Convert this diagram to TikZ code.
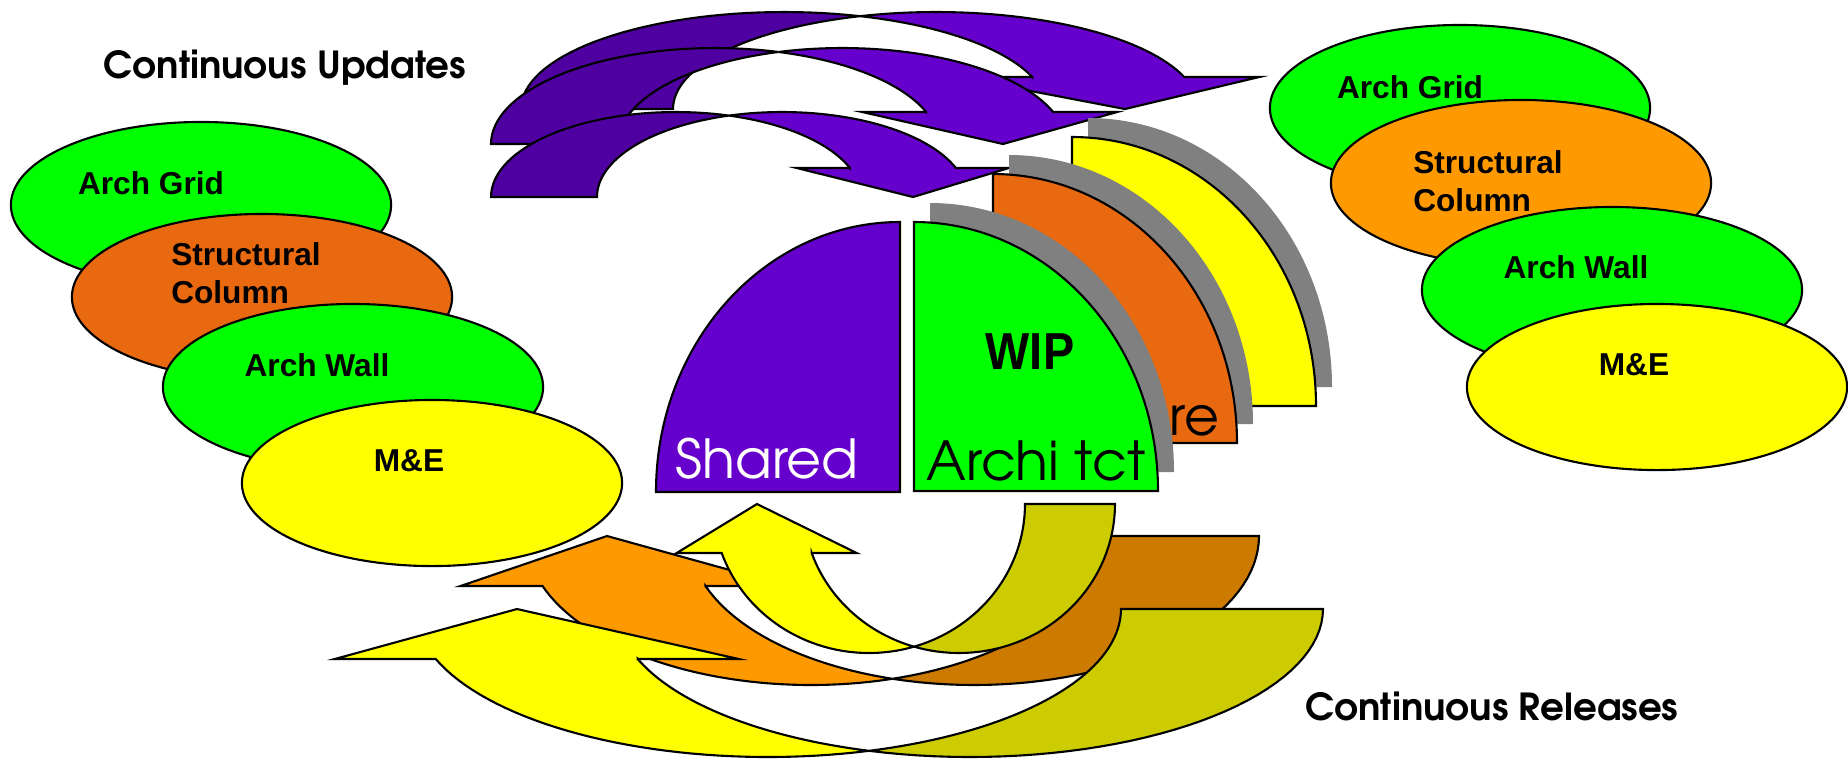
\documentclass[tikz,border=0pt]{standalone}
\usepackage{fontspec}
\usetikzlibrary{shapes.geometric}
\setmainfont{Liberation Sans}
\newfontfamily\gothicfont{texgyreadventor}[Extension=.otf,UprightFont=*-regular,BoldFont=*-bold]
\newfontfamily\narrowfont{Liberation Sans}[FakeStretch=0.9]
\definecolor{archgreen}{HTML}{00FF00}
\definecolor{structorange}{HTML}{E8690F}
\definecolor{colorange}{HTML}{FF9900}
\definecolor{meyellow}{HTML}{FFFF00}
\definecolor{sharedpurple}{HTML}{6600CC}
\definecolor{updark}{HTML}{4F00A0}
\definecolor{relolive}{HTML}{CCCC00}
\definecolor{reldarkorange}{HTML}{CC7A00}
\definecolor{shadowgray}{HTML}{808080}

\begin{document}
\begin{tikzpicture}
[x=0.01cm,y=-0.01cm,
  arrowDecorate/.style={draw=black,line width=0.6pt},%
  quarterDecorate/.style={draw=black,line width=0.6pt},%
  blobDecorate/.style={shape=ellipse,draw,line width=0.6pt,inner sep=0pt,
    minimum width=3.8cm,minimum height=1.66cm},%
  lblDecorate/.style={font=\fontsize{9}{10.8}\selectfont\bfseries,inner sep=0pt,align=left},%
  capDecorate/.style={font=\gothicfont\fontsize{10.6}{12}\selectfont\bfseries,inner sep=0pt},%
  bigDecorate/.style={font=\gothicfont\fontsize{15.3}{17}\selectfont,inner sep=0pt,anchor=base west}]
\useasboundingbox (0,0) rectangle (1848,759);

%% curved arrows: purple ones on top, back to front, then the release ones
\foreach \xo/\yo/\sx/\sy/\wr/\tk/\ry/\ah/\bw/\tip/\tailcol/\maincol in {
  521/109/1/-1/263/152/97/32/75/604/updark/sharedpurple,
  491/144/1/-1/224/127/96/32/64/512/updark/sharedpurple,
  491/197/1/-1/185/106/85/29/53/422/updark/sharedpurple,
  1259/536/-1/1/285/163/149/50/82/652/reldarkorange/colorange,
  1323/609/-1/1/353/202/148/50/101/806/relolive/meyellow,
  1115/504/-1/1/156/90/149/49/45/358/relolive/meyellow}
{
  \pgfmathsetmacro\tA{acos(\tk/(2*\wr))}
  \pgfmathsetmacro\tB{180-\tA}
  \pgfmathsetmacro\tH{asin(\ah/\ry)}
  \pgfmathsetmacro\xin{\wr+\wr*cos(\tH)}
  \pgfmathsetmacro\xout{\xin+\tk}
  \begin{scope}[shift={(\xo,\yo)},xscale=\sx,yscale=\sy]
    %% tail
    \filldraw[arrowDecorate,fill=\tailcol]
      plot[domain=180:\tA,samples=40] ({\wr+\wr*cos(\x)},{\ry*sin(\x)})
      -- plot[domain=\tB:180,samples=40] ({\wr+\tk+\wr*cos(\x)},{\ry*sin(\x)}) -- cycle;
    %% band and head
    \filldraw[arrowDecorate,fill=\maincol]
      plot[domain=\tB:\tH,samples=40] ({\wr+\tk+\wr*cos(\x)},{\ry*sin(\x)})
      -- (\xout+\bw,\ah) -- (\tip,0) -- (\xin-\bw,\ah) -- (\xin,\ah)
      -- plot[domain=\tH:\tA,samples=40] ({\wr+\wr*cos(\x)},{\ry*sin(\x)}) -- cycle;
  \end{scope}
}

%% stacked quarters with their shadows
\foreach \qx/\qy/\qcol in {1072/406/meyellow, 993/443/structorange}
{
  \fill[shadowgray] (\qx+16,\qy-19) -- (\qx+16,\qy-288)
    .. controls (\qx+151,\qy-288) and (\qx+260,\qy-168) .. (\qx+260,\qy-19) -- cycle;
  \filldraw[quarterDecorate,fill=\qcol] (\qx,\qy) -- (\qx,\qy-269)
    .. controls (\qx+135,\qy-269) and (\qx+244,\qy-149) .. (\qx+244,\qy) -- cycle;
}
\node[bigDecorate,anchor=base east] (structure) at (1220,435) {re};
\fill[shadowgray] (930,472) -- (930,203)
  .. controls (1065,203) and (1174,323) .. (1174,472) -- cycle;
\filldraw[quarterDecorate,fill=archgreen] (914,491) -- (914,222)
  .. controls (1049,222) and (1158,342) .. (1158,491) -- cycle;
\filldraw[quarterDecorate,fill=sharedpurple] (900,492) -- (900,222)
  .. controls (765,222) and (656,343) .. (656,492) -- cycle;
\node[bigDecorate,text=white] (shared) at (675,478) {Shared};
\node[bigDecorate] (architect) at (926,480) {Archi tct};
\node[font=\narrowfont\fontsize{14.8}{17}\selectfont\bfseries,inner sep=0pt] (wip) at (1030,352) {WIP};

%% element ellipses
\foreach \name/\ex/\ey/\col/\tx/\ty/\txt in {
  lgrid/201/205/archgreen/151/183/{Arch Grid},
  lcol/262/297/structorange/246/273/{Structural\\Column},
  lwall/353/387/archgreen/317/365/{Arch Wall},
  lme/432/483/meyellow/409/461/{M\&E},
  rgrid/1460/108/archgreen/1410/87/{Arch Grid},
  rcol/1521/183/colorange/1488/181/{Structural\\Column},
  rwall/1612/290/archgreen/1576/267/{Arch Wall},
  rme/1657/387/meyellow/1634/365/{M\&E}}
{
  \node[blobDecorate,fill=\col] (\name) at (\ex,\ey) {};
  \node[lblDecorate] (\name-t) at (\tx,\ty) {\txt};
}

\node[capDecorate] (updates) at (285,68) {Continuous Updates};
\node[capDecorate] (releases) at (1492,706) {Continuous Releases};
\end{tikzpicture}
\end{document}
